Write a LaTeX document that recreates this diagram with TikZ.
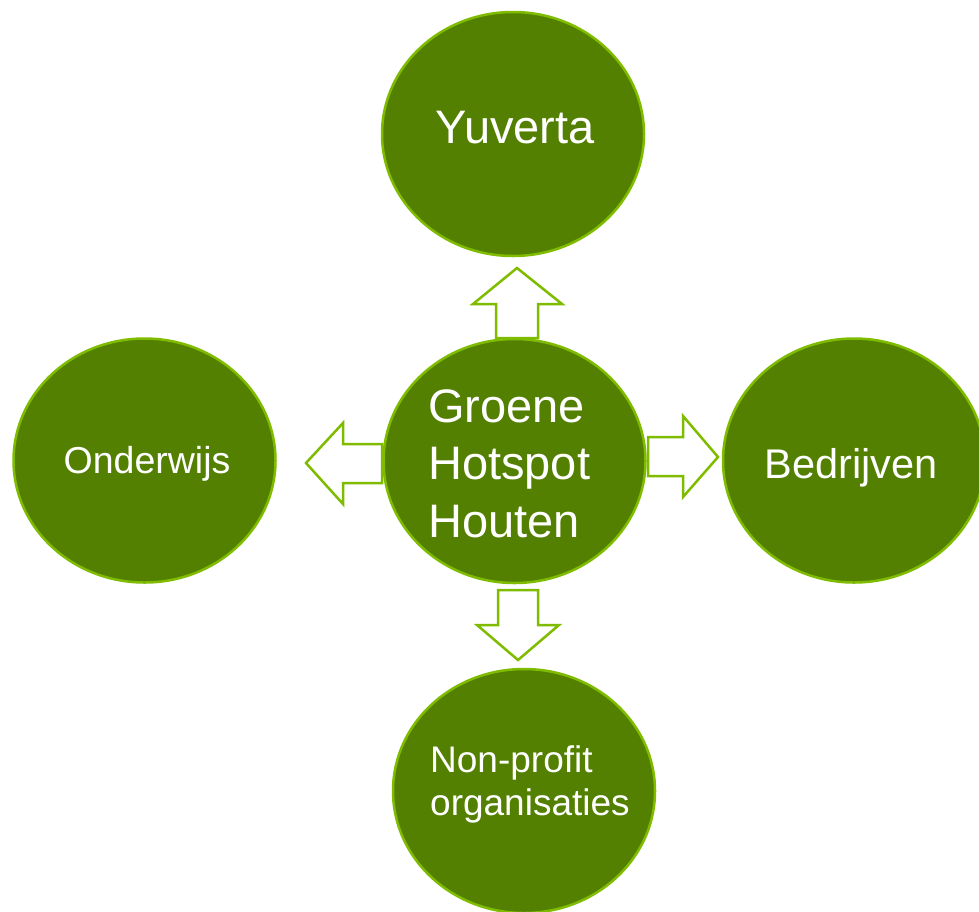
\documentclass[tikz,border=0pt]{standalone}
\usepackage{fontspec}
\setmainfont{Liberation Sans}
\usetikzlibrary{shapes.geometric}
\definecolor{fillgreen}{RGB}{83,128,0}
\definecolor{edgegreen}{RGB}{127,188,0}
\tikzset{
  bubble/.style={ellipse, draw=edgegreen, fill=fillgreen, line width=2.5pt,
    minimum width=262pt, minimum height=244pt, inner sep=0pt, outer sep=0pt},
  label big/.style={text=white, inner sep=0pt, font=\fontsize{47}{57.5}\selectfont},
  label mid/.style={text=white, inner sep=0pt},
  blockarrow/.style={draw=edgegreen, fill=white, line width=2.5pt, line join=miter},
}
\begin{document}
\begin{tikzpicture}[x=1pt,y=-1pt]
\useasboundingbox (0,0) rectangle (979,911);
% block arrows
\draw[blockarrow] (496,338) -- (496,304) -- (473,304) -- (517,268) -- (562,304) -- (538,304) -- (538,338) -- cycle;
\draw[blockarrow] (382,444) -- (343,444) -- (343,423) -- (306,463) -- (343,504) -- (343,483) -- (382,483) -- cycle;
\draw[blockarrow] (648,437) -- (683,437) -- (683,416) -- (718,457) -- (683,497) -- (683,476) -- (648,476) -- cycle;
\draw[blockarrow] (498,590) -- (538,590) -- (538,625) -- (559,625) -- (518,660) -- (477,625) -- (498,625) -- cycle;
% circles
\node[bubble] (top) at (513,134) {};
\node[bubble] (center) at (514.5,461) {};
\node[bubble] (left) at (144.5,460.5) {};
\node[bubble] (right) at (854,460.5) {};
\node[bubble] (bottom) at (524,791) {};
% texts
\node[label big, anchor=base] (ttop) at (515,143) {Yuverta};
\node[label big, anchor=base west, align=left] (tcenter) at (428,537) {Groene\\Hotspot\\Houten};
\node[label mid, anchor=base, font=\fontsize{37.5}{45}\selectfont] (tleft) at (147,473) {Onderwijs};
\node[label mid, anchor=base, font=\fontsize{41.5}{50}\selectfont] (tright) at (851,478) {Bedrijven};
\node[label mid, anchor=base west, align=left, font=\fontsize{37}{43}\selectfont] (tbottom) at (430,815) {Non-profit\\organisaties};
\end{tikzpicture}
\end{document}
